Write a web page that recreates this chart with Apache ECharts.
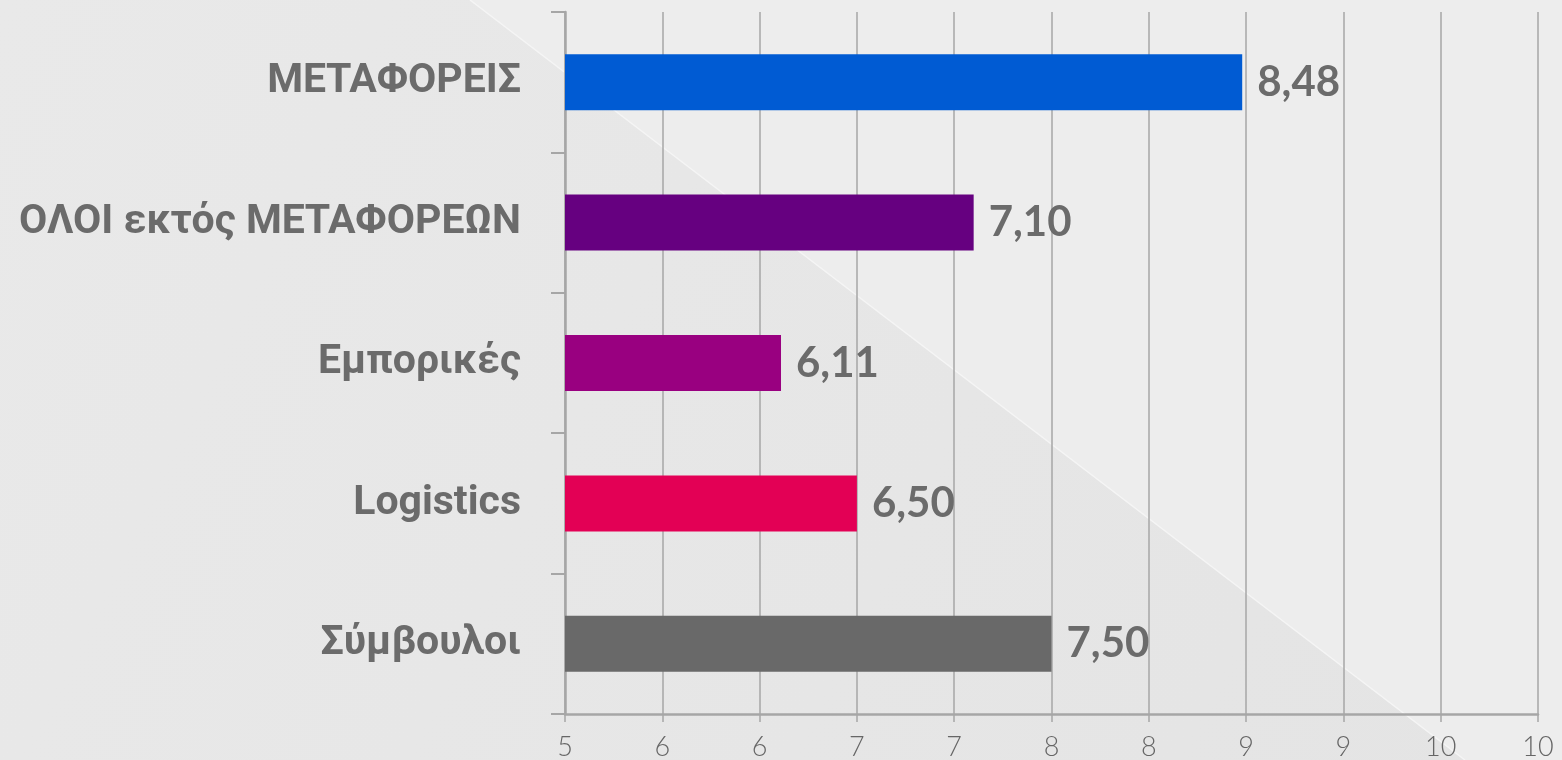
<!DOCTYPE html>
<html>
<head>
<meta charset="utf-8">
<script src="https://cdn.jsdelivr.net/npm/echarts@6.0.0/dist/echarts.min.js"></script>
<style>
    html, body { margin: 0; padding: 0; background: #e7e7e7; }
    #satisfactionChart { width: 1562px; height: 760px; }
</style>
</head>
<body>
<div id="satisfactionChart"></div>
<script>
// categories top to bottom
var categories = ["ΜΕΤΑΦΟΡΕΙΣ", "ΟΛΟΙ εκτός ΜΕΤΑΦΟΡΕΩΝ", "Εμπορικές", "Logistics", "Σύμβουλοι"];
var scores = [8.48, 7.10, 6.11, 6.50, 7.50];
var barColors = ["#005bd3", "#660080", "#990080", "#e30055", "#696969"];
// x axis labels as printed (steps of 0.5, rounded)
var tickLabels = ["5", "6", "6", "7", "7", "8", "8", "9", "9", "10", "10"];
var axisMin = 5, axisMax = 10, axisStep = 0.5;

function genChart(){
    var bar_Chart = echarts.getInstanceByDom(document.getElementById("satisfactionChart"));
    if (!bar_Chart) { bar_Chart = echarts.init(document.getElementById("satisfactionChart")); };

    var gridColor = "#a6a6a6";
    var textColor = "#6b6b6b";

    var option = {
        backgroundColor : {
            type: 'linear', x: 0, y: 0, x2: 1, y2: 1,
            colorStops: [{ offset: 0, color: '#e9e9e9' }, { offset: 1, color: '#e4e4e4' }]
        },
        animation : false,
        graphic : [
            {
                type: 'polygon',
                z: -10,
                silent: true,
                shape: { points: [[470, 0], [1562, 0], [1562, 760], [1465, 760]] },
                style: { fill: '#ededed' }
            },
            {
                type: 'line',
                z: -9,
                silent: true,
                shape: { x1: 470, y1: 0, x2: 1465, y2: 760 },
                style: { stroke: '#f5f5f5', lineWidth: 1.5 }
            }
        ],
        grid: {
            left: 565,
            right: 24,
            top: 12,
            bottom: 46,
            containLabel: false,
            outerBoundsMode: 'none'
        },
        xAxis: {
            type: 'value',
            min: axisMin,
            max: axisMax,
            interval: axisStep,
            axisLine: { show: true, lineStyle: { color: gridColor, width: 2.5 } },
            axisTick: { show: true, length: 8, lineStyle: { color: gridColor, width: 1.5 } },
            splitLine: { show: true, lineStyle: { color: gridColor, width: 1.5 } },
            axisLabel: {
                margin: 20,
                color: '#666666',
                fontSize: 27,
                fontFamily: 'Lato',
                fontWeight: 300,
                formatter: function(value){
                    var idx = Math.round((value - axisMin) / axisStep);
                    return tickLabels[idx];
                }
            }
        },
        yAxis: {
            type: 'category',
            inverse: true,
            data: categories,
            axisLine: { show: true, lineStyle: { color: gridColor, width: 2.5 } },
            axisTick: { show: true, length: 14, lineStyle: { color: gridColor, width: 2 } },
            axisLabel: {
                margin: 44,
                color: textColor,
                fontSize: 41,
                fontWeight: 'bold',
                fontFamily: 'Roboto, "Liberation Sans", sans-serif'
            }
        },
        series: [{
            type: 'bar',
            barWidth: 56,
            data: scores.map(function(v, i){
                return { value: v, itemStyle: { color: barColors[i] } };
            }),
            label: {
                show: true,
                position: 'right',
                distance: 15,
                color: textColor,
                fontSize: 42,
                fontWeight: 'bold',
                fontFamily: 'Lato',
                formatter: function(p){ return p.value.toFixed(2).replace('.', ','); }
            }
        }]
    };

    bar_Chart.clear();
    bar_Chart.setOption(option);
    window.addEventListener('resize', function(){ bar_Chart.resize(); });
}

genChart();
</script>
</body>
</html>
